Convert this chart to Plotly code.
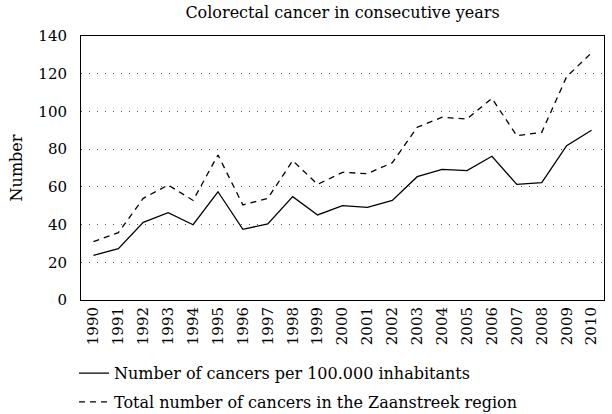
import plotly.graph_objects as go

years = list(range(1990, 2011))
per_100000 = [23.7, 27.2, 41.2, 46.3, 39.9, 57.4, 37.5, 40.3, 54.8, 45.1,
              50.0, 49.1, 52.8, 65.4, 69.3, 68.6, 76.2, 61.3, 62.2, 81.8, 90.0]
total_zaanstreek = [30.9, 35.7, 53.9, 61.0, 52.8, 76.9, 50.4, 53.9, 73.9, 61.3,
                    67.7, 67.0, 72.8, 91.6, 96.9, 96.0, 106.9, 87.1, 88.9, 118.4, 131.1]
y_ticks = [0, 20, 40, 60, 80, 100, 120, 140]

FONT = "DejaVu Serif, Liberation Serif, serif"

fig = go.Figure()
fig.add_trace(go.Scatter(
    x=years, y=per_100000, mode="lines",
    name="Number of cancers per 100.000 inhabitants",
    line=dict(color="black", width=1.3), legendgroup="a"))
fig.add_trace(go.Scatter(
    x=years, y=total_zaanstreek, mode="lines",
    name="Total number of cancers in the Zaanstreek region",
    line=dict(color="black", width=1.3, dash="6px,5px"), legendgroup="b"))

fig.update_layout(
    width=612, height=414,
    margin=dict(l=81, r=8, t=36, b=114, autoexpand=False),
    paper_bgcolor="white", plot_bgcolor="white",
    font=dict(family=FONT, size=16, color="black"),
    title=dict(text="Colorectal cancer in consecutive years", x=0.5, xanchor="center",
               xref="paper", y=1 - 12 / 414, yref="container", yanchor="middle",
               font=dict(family=FONT, size=16, color="black")),
    showlegend=True,
    legend=dict(x=-0.0134, xanchor="left", y=-0.213, yanchor="top", orientation="v",
                font=dict(family=FONT, size=16, color="black"),
                tracegroupgap=5, bgcolor="rgba(0,0,0,0)"),
)
fig.update_xaxes(
    range=[1989.5, 2010.5], tickvals=years, ticktext=[str(y) for y in years],
    tickangle=-90, showgrid=False, zeroline=False, ticks="", automargin=False,
    showline=True, linecolor="black", linewidth=1, mirror=True,
    tickfont=dict(family=FONT, size=15, color="black"))
fig.update_yaxes(
    range=[0, 140], tickvals=y_ticks, showgrid=True, gridcolor="#555555",
    griddash="1px,7px", gridwidth=1, zeroline=False, ticks="", automargin=False,
    showline=True, linecolor="black", linewidth=1, mirror=True,
    ticklabelstandoff=10,
    title=dict(text="Number", standoff=11, font=dict(family=FONT, size=16, color="black")),
    tickfont=dict(family=FONT, size=15, color="black"))

fig.write_html("out.html", config={"displayModeBar": False},
               post_script="document.body.style.margin='0';")
